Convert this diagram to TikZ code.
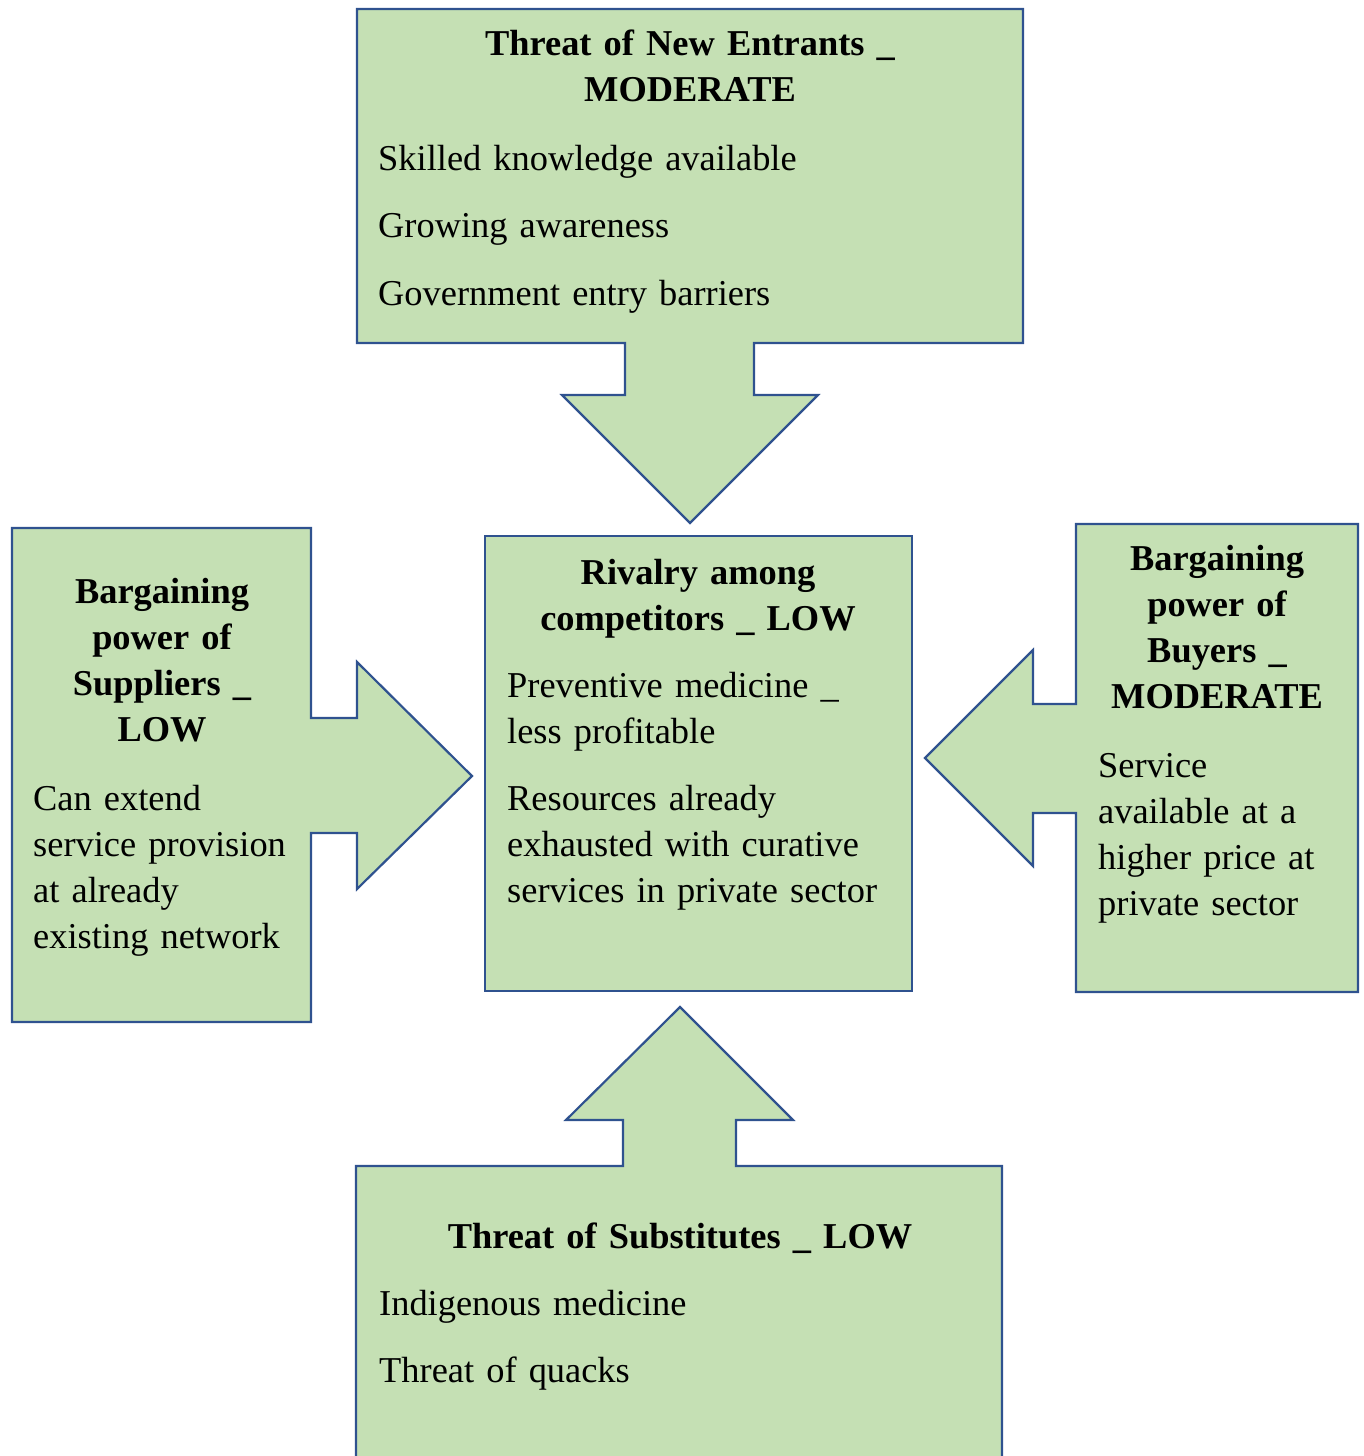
\documentclass[tikz,border=0pt]{standalone}
\usepackage{fontspec}
\setmainfont{Liberation Serif}
\definecolor{boxfill}{HTML}{C5E0B4}
\definecolor{boxline}{HTML}{2F528F}

\begin{document}
\begin{tikzpicture}[x=1pt, y=-1pt,
  every node/.style={inner sep=0pt, font=\fontsize{36.4}{46}\selectfont},
  force/.style={draw=boxline, fill=boxfill, line width=2.2pt, line join=miter},
  head/.style={font=\fontsize{36.4}{46}\selectfont\bfseries, align=center, anchor=base},
  items/.style={align=left, anchor=base west}]
  \useasboundingbox (0,0) rectangle (1363,1456);

  \draw[force] (357,9) -- (1023,9) -- (1023,343) -- (754,343) -- (754,395) -- (818,395) -- (690,523)
    -- (562,395) -- (625,395) -- (625,343) -- (357,343) -- cycle;
  \draw[force] (12,528) -- (311,528) -- (311,718) -- (357,718) -- (357,662) -- (472,776)
    -- (357,889) -- (357,833) -- (311,833) -- (311,1022) -- (12,1022) -- cycle;
  \draw[force] (1076,524) -- (1358,524) -- (1358,992) -- (1076,992) -- (1076,813) -- (1033,813)
    -- (1033,866) -- (925,758) -- (1033,650) -- (1033,704) -- (1076,704) -- cycle;
  \draw[force] (356,1166) -- (623,1166) -- (623,1120) -- (566,1120) -- (680,1007) -- (793,1120)
    -- (736,1120) -- (736,1166) -- (1002,1166) -- (1002,1470) -- (356,1470) -- cycle;
  \draw[force] (485,536) rectangle (912,991);

  \node[head, text width=640pt] (entrh) at (690,55) {Threat of New Entrants \_\\MODERATE};
  \node[items, text width=630pt] (entrb) at (378,170) {Skilled knowledge available\\[21.5pt]Growing awareness\\[21.5pt]Government entry barriers};

  \node[head, text width=410pt] (rivh) at (698,584) {Rivalry among\\competitors \_ LOW};
  \node[items, text width=400pt] (rivb) at (507,697) {Preventive medicine \_\\less profitable\\[21.5pt]Resources already\\exhausted with curative\\services in private sector};

  \node[head, text width=290pt] (suph) at (162,603) {Bargaining\\power of\\Suppliers \_\\LOW};
  \node[items, text width=275pt] (supb) at (33,810) {Can extend\\service provision\\at already\\existing network};

  \node[head, text width=275pt] (buyh) at (1217,570) {Bargaining\\power of\\Buyers \_\\MODERATE};
  \node[items, text width=255pt] (buyb) at (1098,777) {Service\\available at a\\higher price at\\private sector};

  \node[head, text width=620pt] (subh) at (680,1248) {Threat of Substitutes \_ LOW};
  \node[items, text width=620pt] (subb) at (379,1315) {Indigenous medicine\\[21.5pt]Threat of quacks};
\end{tikzpicture}
\end{document}
